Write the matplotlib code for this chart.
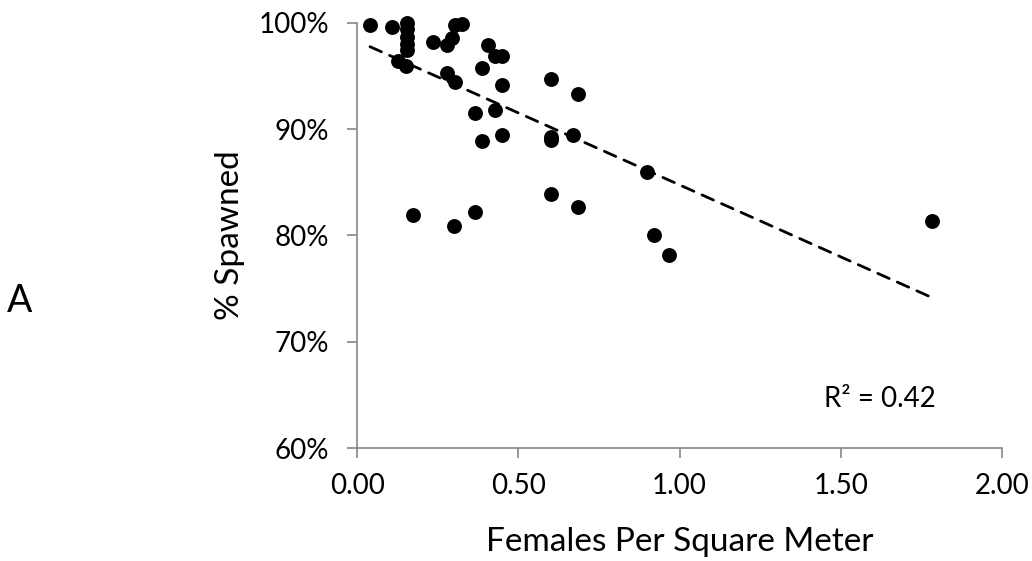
import matplotlib.pyplot as plt
import numpy as np
from matplotlib.ticker import FuncFormatter

plt.rcParams['font.family'] = ['Lato', 'DejaVu Sans']

# females per square meter
density = [0.040, 0.109, 0.155, 0.155, 0.155, 0.155, 0.155, 0.127, 0.152,
           0.236, 0.280, 0.295, 0.304, 0.326, 0.407, 0.429, 0.450, 0.388,
           0.280, 0.304, 0.450, 0.366, 0.429, 0.388, 0.450, 0.602, 0.602,
           0.668, 0.602, 0.686, 0.900, 0.174, 0.301, 0.366, 0.602, 0.686,
           0.922, 0.966, 1.783]
# percent spawned
spawned = [99.8, 99.6, 100.0, 99.4, 98.7, 98.0, 97.4, 96.4, 95.9,
           98.2, 97.9, 98.6, 99.8, 99.9, 97.9, 96.9, 96.9, 95.7,
           95.3, 94.4, 94.1, 91.5, 91.8, 88.9, 89.4, 89.3, 89.0,
           89.4, 94.7, 93.3, 86.0, 81.9, 80.9, 82.2, 83.9, 82.7,
           80.0, 78.2, 81.4]

x = np.array(density)
y = np.array(spawned)

fig = plt.figure(figsize=(10.32, 5.61), dpi=100)
ax = fig.add_axes([0.346, 0.201, 0.625, 0.7585])

ax.scatter(x, y, s=115, color='black', zorder=3, linewidths=0, clip_on=False)

# linear trendline like excel
m, b = np.polyfit(x, y, 1)
xt = np.array([x.min(), x.max()])
ax.plot(xt, m * xt + b, color='black', lw=2.0, dashes=(4.5, 3.2),
        dash_capstyle='round')

ax.set_xlim(0, 2)
ax.set_ylim(60, 100)
ax.set_xticks([0, 0.5, 1.0, 1.5, 2.0])
ax.set_yticks([60, 70, 80, 90, 100])
ax.xaxis.set_major_formatter(FuncFormatter(lambda v, p: f"{v:.2f}"))
ax.yaxis.set_major_formatter(FuncFormatter(lambda v, p: f"{v:.0f}%"))

for s in ['top', 'right']:
    ax.spines[s].set_visible(False)
for s in ['left', 'bottom']:
    ax.spines[s].set_color('#868686')
    ax.spines[s].set_linewidth(1.2)
ax.tick_params(axis='both', colors='#868686', length=7, width=1.2,
               labelcolor='black', labelsize=20)
ax.tick_params(axis='y', pad=13)
ax.tick_params(axis='x', pad=11)

ax.set_xlabel('Females Per Square Meter', fontsize=24, labelpad=20)
ax.set_ylabel('% Spawned', fontsize=24, labelpad=10)

ax.text(1.62, 64.6, "R² = 0.42", fontsize=20, ha='center', va='center')
fig.text(0.0194, 0.463, 'A', fontsize=27, ha='center', va='center')

fig.savefig('out.png', dpi=100)
